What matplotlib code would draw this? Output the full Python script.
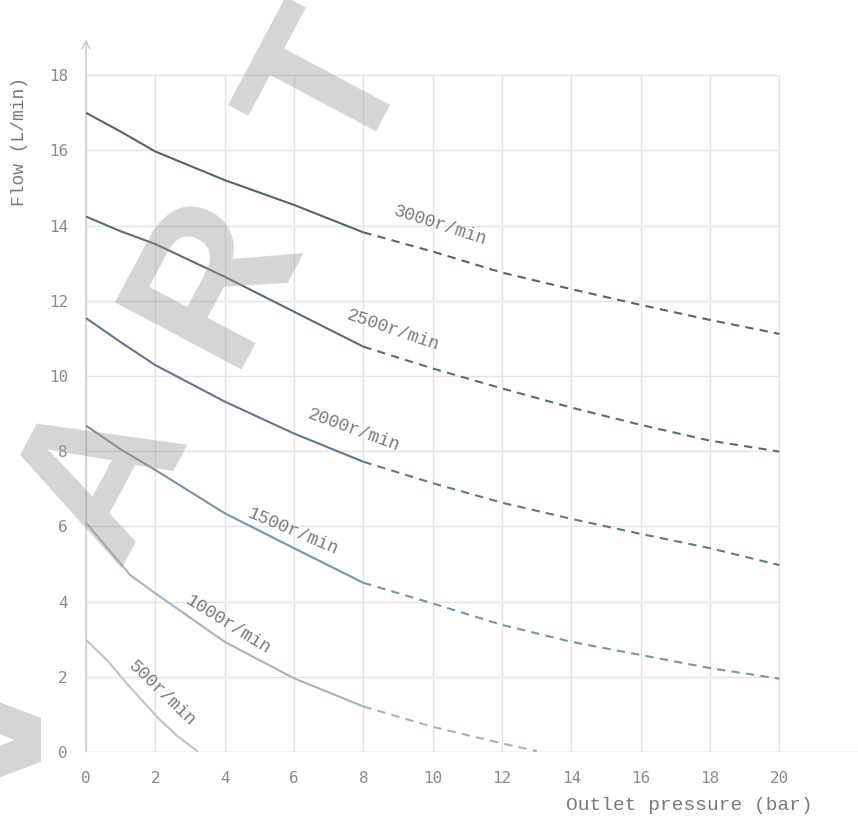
import matplotlib
matplotlib.use("Agg")
import matplotlib.pyplot as plt

# ---------------- data ----------------
speed_labels = ["3000r/min", "2500r/min", "2000r/min", "1500r/min", "1000r/min", "500r/min"]

# solid (measured) part
p_solid = [0, 1, 2, 4, 6, 8]
q3000_solid = [17.0, 16.5, 15.97, 15.21, 14.55, 13.82]
q2500_solid = [14.24, 13.85, 13.51, 12.64, 11.71, 10.78]
q2000_solid = [11.54, 10.9, 10.29, 9.32, 8.47, 7.72]
q1500_solid = [8.68, 8.05, 7.5, 6.35, 5.42, 4.5]
p1000_solid = [0, 1.27, 2, 4, 6, 8]
q1000_solid = [6.1, 4.71, 4.22, 2.93, 1.96, 1.21]
p500_solid = [0, 0.6, 1.17, 2.04, 2.6, 3.24]
q500_solid = [2.98, 2.45, 1.83, 0.94, 0.45, 0.0]

# dashed (extrapolated) part
p_dash = [8, 10, 12, 14, 16, 18, 20]
q3000_dash = [13.82, 13.31, 12.75, 12.31, 11.89, 11.49, 11.12]
q2500_dash = [10.78, 10.2, 9.67, 9.16, 8.7, 8.28, 7.99]
q2000_dash = [7.72, 7.15, 6.63, 6.2, 5.8, 5.42, 4.97]
q1500_dash = [4.5, 3.95, 3.38, 2.93, 2.58, 2.23, 1.95]
p1000_dash = [8, 10, 12, 13]
q1000_dash = [1.21, 0.67, 0.23, 0.02]

x_ticks = [0, 2, 4, 6, 8, 10, 12, 14, 16, 18, 20]
y_ticks = [0, 2, 4, 6, 8, 10, 12, 14, 16, 18]

# label anchor points (pressure, flow) and rotation
label_pos = [(10.21, 14.0), (8.84, 11.2), (7.71, 8.56), (5.98, 5.86), (4.11, 3.38), (2.2, 1.56)]
label_rot = [-18, -19, -20, -23, -32, -44]

colors = ["#55646e", "#5b6b77", "#62778a", "#7a93a6", "#a2b4c2", "#c2c2c2"]

# ---------------- figure ----------------
W, H = 858, 816
fig = plt.figure(figsize=(W / 100, H / 100), dpi=100)
ax = fig.add_axes([86 / W, (H - 752) / H, (W - 86) / W, 752 / H])
ax.set_xlim(0, (W - 86) / 34.67)
ax.set_ylim(0, 752 / 37.6)

grid_c = "#e3e3e3"
ax.vlines(x_ticks, 0, y_ticks[-1], color=grid_c, lw=1.0, zorder=1)
ax.hlines(y_ticks[1:], 0, x_ticks[-1], color=grid_c, lw=1.0, zorder=1)

axis_c = "#c8c8c8"
ax.axhline(0, color=axis_c, lw=1.0, zorder=2)
ax.annotate("", xy=(0, 18.95), xytext=(0, 0),
            arrowprops=dict(arrowstyle="->", color=axis_c, lw=1.0,
                            mutation_scale=14, shrinkA=0, shrinkB=0), zorder=2)

for s in ax.spines.values():
    s.set_visible(False)

ax.set_xticks(x_ticks)
ax.set_yticks(y_ticks)
ax.tick_params(length=0, colors="#8a8a8a", labelsize=11.5)
ax.tick_params(axis="x", pad=14)
ax.tick_params(axis="y", pad=13)
for lab in ax.get_xticklabels() + ax.get_yticklabels():
    lab.set_family("DejaVu Sans Mono")

solids = [(p_solid, q3000_solid), (p_solid, q2500_solid), (p_solid, q2000_solid),
          (p_solid, q1500_solid), (p1000_solid, q1000_solid), (p500_solid, q500_solid)]
dashes = [(p_dash, q3000_dash), (p_dash, q2500_dash), (p_dash, q2000_dash),
          (p_dash, q1500_dash), (p1000_dash, q1000_dash), None]

for i in range(len(speed_labels)):
    xs, ys = solids[i]
    ax.plot(xs, ys, color=colors[i], lw=1.5, zorder=3, solid_capstyle="butt",
            solid_joinstyle="round")
    if dashes[i] is not None:
        xd, yd = dashes[i]
        ax.plot(xd, yd, color=colors[i], lw=1.5, zorder=3, dashes=(4, 3))
    lx, ly = label_pos[i]
    ax.text(lx, ly, speed_labels[i], rotation=label_rot[i], rotation_mode="anchor",
            ha="center", va="center", family="Liberation Mono", fontsize=13,
            color="#7a7a7a", zorder=4)

fig.text(689 / W, 1 - 805 / H, "Outlet pressure (bar)", ha="center", va="center",
         family="Liberation Mono", fontsize=14, color="#7a7a7a")
fig.text(20 / W, 1 - 141 / H, "Flow (L/min)", ha="center", va="center", rotation=90,
         family="Liberation Mono", fontsize=13, color="#7a7a7a")

# watermark
wm = dict(ha="center", va="center", rotation=62, rotation_mode="anchor",
          family="Liberation Sans", weight="bold", fontsize=150,
          color="#9a9a9a", alpha=0.42, zorder=10)
fig.text(106 / W, 1 - 476 / H, "A", **wm)
fig.text(215 / W, 1 - 277 / H, "R", **wm)
fig.text(335 / W, 1 - 90 / H, "T", **wm)
fig.text(52 / W, 1 - 760 / H, ">", ha="right", va="center", family="Liberation Sans",
         weight="bold", fontsize=200, color="#9a9a9a", alpha=0.42, zorder=10)

fig.savefig("out.png", dpi=100)
